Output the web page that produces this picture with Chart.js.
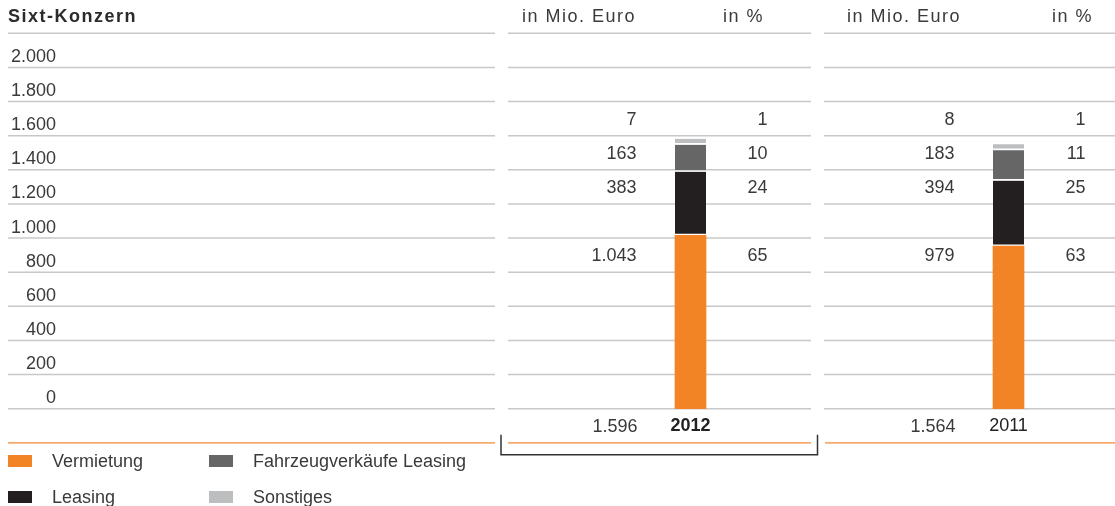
<!DOCTYPE html>
<html>
<head>
<meta charset="utf-8">
<script src="https://cdn.jsdelivr.net/npm/chart.js@4.4.1/dist/chart.umd.min.js"></script>
<style>
  body { margin: 0; background: #fff; }
  #wrap { width: 1115px; height: 506px; }
</style>
</head>
<body>
<div id="wrap"><canvas id="umsatzChart"></canvas></div>
<script>
// Umsatz Sixt-Konzern in Mio. Euro
const years = ['2012', '2011'];
const vermietung = [1043, 979];
const leasing = [383, 394];
const fahrzeugverkaeufe = [163, 183];
const sonstiges = [7, 8];
const gesamt = [1596, 1564];

// Anteile in %
const anteilVermietung = [65, 63];
const anteilLeasing = [24, 25];
const anteilFahrzeug = [10, 11];
const anteilSonstiges = [1, 1];

const yTickValues = [0, 200, 400, 600, 800, 1000, 1200, 1400, 1600, 1800, 2000];

const FONT = '"Liberation Sans", Arial, sans-serif';
const TEXT = '#3a3a3a';

function fmt(v) {
  return String(v).replace(/\B(?=(\d{3})+(?!\d))/g, '.');
}

// table blocks: label block on the left, one block per year
const blocks = [
  { from: 8, to: 495 },
  { from: 508, to: 811, head1: 522, head2: 723, bracket: true },
  { from: 824, to: 1115, head1: 847, head2: 1052 }
];

function text(ctx, str, x, y, align, weight, spacing) {
  ctx.font = (weight || 'normal') + ' 18px ' + FONT;
  ctx.textAlign = align || 'left';
  ctx.textBaseline = 'middle';
  ctx.letterSpacing = spacing || '0px';
  ctx.fillText(str, x, y);
  ctx.letterSpacing = '0px';
}

const tablePlugin = {
  id: 'table',
  beforeDatasetsDraw(chart) {
    const { ctx, scales: { y } } = chart;
    ctx.save();

    // grey table rows at every tick + top header line
    ctx.strokeStyle = '#c8c8c8';
    ctx.lineWidth = 1.5;
    yTickValues.concat([y.max]).forEach(v => {
      const py = y.getPixelForValue(v);
      blocks.forEach(b => {
        ctx.beginPath();
        ctx.moveTo(b.from, py);
        ctx.lineTo(b.to, py);
        ctx.stroke();
      });
    });

    // orange closing line below the totals row
    const oy = y.getPixelForValue(-200);
    ctx.strokeStyle = '#f08a35';
    ctx.lineWidth = 1.2;
    blocks.forEach(b => {
      ctx.beginPath();
      ctx.moveTo(b.from + (b === blocks[2] ? 1 : 0), oy);
      ctx.lineTo(b.to, oy);
      ctx.stroke();
    });

    // bracket under the current year
    ctx.strokeStyle = '#333';
    ctx.lineWidth = 1.5;
    blocks.filter(b => b.bracket).forEach(b => {
      ctx.beginPath();
      ctx.moveTo(b.from - 7, oy - 8);
      ctx.lineTo(b.from - 7, oy + 12);
      ctx.lineTo(b.to + 6.5, oy + 12);
      ctx.lineTo(b.to + 6.5, oy - 8);
      ctx.stroke();
    });

    // headers
    ctx.fillStyle = '#2b2b2b';
    text(ctx, 'Sixt-Konzern', blocks[0].from, 17.5, 'left', 'bold', '1.5px');
    ctx.fillStyle = TEXT;
    blocks.slice(1).forEach(b => {
      text(ctx, 'in Mio. Euro', b.head1, 17.5, 'left', 'normal', '1.5px');
      text(ctx, 'in %', b.head2, 17.5, 'left', 'normal', '1.5px');
    });

    // y tick labels, sitting in the row above their line
    yTickValues.forEach(v => {
      text(ctx, fmt(v), 56, y.getPixelForValue(v) - 10.5, 'right');
    });
    ctx.restore();
  },
  afterDatasetsDraw(chart) {
    const { ctx, scales: { x, y } } = chart;
    ctx.save();
    ctx.fillStyle = TEXT;
    years.forEach((yr, i) => {
      const px = x.getPixelForValue(i);
      chart.data.datasets.forEach(ds => {
        const py = y.getPixelForValue(ds.row) + 1;
        text(ctx, fmt(ds.data[i]), px - 54, py, 'right');
        text(ctx, String(ds.anteil[i]), px + 77, py, 'right');
      });
      text(ctx, fmt(gesamt[i]), px - 53, y.getPixelForValue(-100) + 1, 'right');
    });

    // legend, two columns
    const legendCols = [8, 209];
    const legendRows = [461, 497];
    chart.data.datasets.forEach((ds, k) => {
      const lx = legendCols[Math.floor(k / 2)];
      const ly = legendRows[k % 2];
      ctx.fillStyle = ds.backgroundColor;
      ctx.fillRect(lx, ly - 6, 24, 12);
      ctx.fillStyle = TEXT;
      text(ctx, ds.label, lx + 44, ly + 1, 'left');
    });
    ctx.restore();
  }
};

const segment = {
  yAxisID: 'bars',
  barThickness: 31,
  borderColor: '#ffffff',
  borderWidth: { top: 0, right: 0, bottom: 2, left: 0 },
  borderSkipped: false,
  clip: false
};

new Chart(document.getElementById('umsatzChart'), {
  type: 'bar',
  data: {
    labels: years,
    datasets: [
      Object.assign({}, segment, { label: 'Vermietung', data: vermietung, anteil: anteilVermietung, row: 900,
        backgroundColor: '#f28426', borderWidth: 0 }),
      Object.assign({}, segment, { label: 'Leasing', data: leasing, anteil: anteilLeasing, row: 1300,
        backgroundColor: '#231f20' }),
      Object.assign({}, segment, { label: 'Fahrzeugverkäufe Leasing', data: fahrzeugverkaeufe, anteil: anteilFahrzeug, row: 1500,
        backgroundColor: '#666666' }),
      Object.assign({}, segment, { label: 'Sonstiges', data: sonstiges, anteil: anteilSonstiges, row: 1700,
        backgroundColor: '#bcbec0', minBarLength: 6 })
    ]
  },
  options: {
    responsive: true,
    maintainAspectRatio: false,
    animation: false,
    layout: { padding: { left: 690.5, right: 106.5, top: 33.3, bottom: 63.3 } },
    plugins: { legend: { display: false }, tooltip: { enabled: false } },
    scales: {
      x: {
        stacked: true,
        offset: false,
        grid: { display: false, drawTicks: false },
        border: { display: false },
        ticks: {
          padding: 7,
          color: '#222',
          font: c => ({ family: FONT, size: 18, weight: c.index === 0 ? 'bold' : 'normal' })
        },
        afterFit: s => { s.height = 34; }
      },
      // table rows
      y: {
        min: 0,
        max: 2200,
        grid: { display: false, drawTicks: false },
        border: { display: false },
        ticks: { display: false, stepSize: 200 },
        afterFit: s => { s.width = 0; }
      },
      // bar heights, drawn a little flatter than the rows like in the original
      bars: {
        stacked: true,
        min: 0,
        max: 2260,
        grid: { display: false, drawTicks: false },
        border: { display: false },
        ticks: { display: false },
        afterFit: s => { s.width = 0; }
      }
    }
  },
  plugins: [tablePlugin]
});
</script>
</body>
</html>
